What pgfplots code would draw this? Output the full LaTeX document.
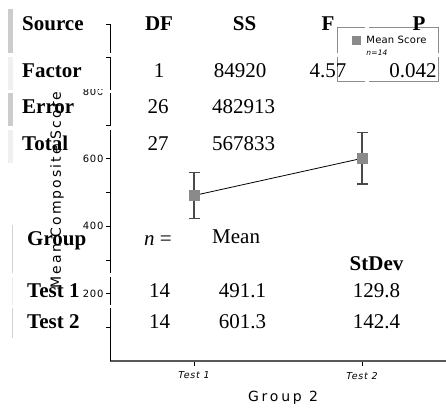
\documentclass[border=0pt]{standalone}
\usepackage{fontspec}
\usepackage{pgfplots}
\pgfplotsset{compat=1.18}
\setmainfont{Liberation Serif}
\newfontfamily\axfont[LetterSpace=15]{DejaVu Sans}
\newfontfamily\xlabfont[LetterSpace=20]{DejaVu Sans}
\newfontfamily\tickfont[LetterSpace=8]{DejaVu Sans}
\newfontfamily\xtickfont[LetterSpace=8]{DejaVu Sans}
\newfontfamily\legfont[LetterSpace=2]{DejaVu Sans}
\newcommand\tb{\fontsize{21pt}{24pt}\selectfont}
\definecolor{mk}{HTML}{8A8A8A}
\definecolor{eb}{HTML}{4A4A4A}
\begin{document}
\begin{tikzpicture}[x=1pt,y=1pt]
\path[use as bounding box] (0,0) rectangle (446,416);
% left row bars
\fill[gray!40] (8,407) rectangle (13,363);
\fill[gray!12] (8,359) rectangle (13,326);
\fill[gray!40] (8,323) rectangle (13,290);
\fill[gray!12] (8,286) rectangle (13,253);
\fill[gray!35] (11.5,191) rectangle (12.5,143);
\fill[gray!15] (11.5,139) rectangle (12.5,111);
\fill[gray!35] (11.5,108) rectangle (12.5,78);
\begin{axis}[
  at={(110pt,55pt)}, anchor=south west, scale only axis,
  width=336pt, height=337pt,
  xmin=0.5, xmax=2.5, ymin=0, ymax=1000,
  axis x line*=bottom, axis y line*=left,
  x axis line style={-, draw=black!65, line width=1.5pt},
  y axis line style={-, draw=black, line width=0.9pt},
  xtick={1,2}, xticklabels={Test 1,Test 2},
  ytick={100,200,300,400,500,600,700,800,900,1000},
  yticklabels={,200,,400,,600,,800,,},
  tick align=outside, major tick length=4.5pt,
  tick style={black, line width=0.7pt},
  yticklabel style={font=\tickfont\fontsize{10pt}{11pt}\selectfont, xshift=1.5pt},
  xticklabel style={font=\xtickfont\itshape\fontsize{9.5pt}{10pt}\selectfont, yshift=-3pt},
  xlabel={Group 2}, ylabel={Mean Composite Score},
  xlabel style={at={(axis description cs:0.515,0)}, anchor=center, yshift=-37pt,
    font=\xlabfont\fontsize{14pt}{16pt}\selectfont},
  ylabel style={at={(axis description cs:-0.158,0.507)}, anchor=center,
    font=\axfont\fontsize{14pt}{16pt}\selectfont},
  legend style={at={(axis description cs:0.6756,0.9911)}, anchor=north west,
    draw=black!45, line width=0.8pt, fill=white, inner xsep=10pt, inner ysep=7pt,
    font=\legfont\fontsize{10pt}{11pt}\selectfont, row sep=1pt},
  legend cell align=left,
]
\addplot[black, line width=0.8pt, mark=square*, mark size=5pt,
  mark options={fill=mk, draw=mk},
  legend image code/.code={\path[draw=none] (0cm,0cm) -- (0.6cm,0cm);
    \path[draw=none, mark=square*, mark size=4pt, mark options={fill=mk, draw=mk}]
      plot coordinates {(0.3cm,0cm)};},
  error bars/.cd, y dir=both, y explicit,
  error bar style={eb, line width=1.2pt},
  error mark options={eb, line width=1.2pt, mark size=5.5pt, rotate=90}]
  coordinates {(1,491.1) +- (0,69.4) (2,601.3) +- (0,76.1)};
\addlegendentry{Mean Score}
\addlegendimage{empty legend}
\addlegendentry[text depth=17pt]{\fontsize{7.5pt}{8pt}\selectfont\itshape n=14}
\end{axis}
% white gaps between table cells
\fill[white] (98,359) rectangle (114,363);
\fill[white] (98,323) rectangle (114,326);
\fill[white] (98,286) rectangle (114,290);
\fill[white] (98,139) rectangle (114,143);
\fill[white] (98,108) rectangle (114,111);
\fill[white] (68,326.6) rectangle (106,338);
\fill[white] (365,386) rectangle (369,392);
\fill[white] (365,333) rectangle (369,339);
\fill[white] (333,359) rectangle (341,363);
\fill[white] (438,359) rectangle (446,363);
% ANOVA table
\begin{scope}[every node/.style={inner sep=0pt, font=\tb}]
\node[anchor=base west, font=\tb\bfseries] at (22,385) {Source};
\node[anchor=base, font=\tb\bfseries] at (159,385) {DF};
\node[anchor=base, font=\tb\bfseries] at (244.5,385) {SS};
\node[anchor=base, font=\tb\bfseries] at (328,385) {F};
\node[anchor=base, font=\tb\bfseries] at (419,385) {P};
\node[anchor=base west, font=\tb\bfseries] at (22,339) {Factor};
\node[anchor=base] at (159,339) {1};
\node[anchor=base] at (240,339) {84920};
\node[anchor=base] at (328,339) {4.57};
\node[anchor=base] at (413,339) {0.042};
\node[anchor=base west, font=\tb\bfseries] at (22,303) {Error};
\node[anchor=base] at (158,303) {26};
\node[anchor=base] at (243.5,303) {482913};
\node[anchor=base west, font=\tb\bfseries] at (22,266) {Total};
\node[anchor=base] at (158,266) {27};
\node[anchor=base] at (243.5,266) {567833};
% group table
\node[anchor=base west, font=\tb\bfseries] at (27,171) {Group};
\node[anchor=base] at (158,171) {\textit{n} =};
\node[anchor=base west] at (212,173) {Mean};
\node[anchor=base, font=\tb\bfseries] at (376.5,146) {StDev};
\node[anchor=base west, font=\tb\bfseries] at (27,119) {Test 1};
\node[anchor=base] at (159.5,119) {14};
\node[anchor=base] at (242.5,119) {491.1};
\node[anchor=base] at (376.5,119) {129.8};
\node[anchor=base west, font=\tb\bfseries] at (27,88) {Test 2};
\node[anchor=base] at (159.5,88) {14};
\node[anchor=base] at (242.5,88) {601.3};
\node[anchor=base] at (376.5,88) {142.4};
\end{scope}
\end{tikzpicture}
\end{document}
